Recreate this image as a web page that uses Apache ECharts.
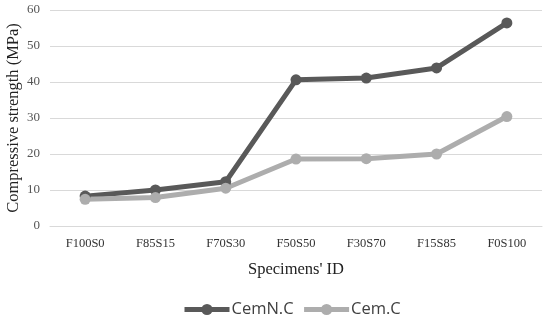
<!DOCTYPE html>
<html><head><meta charset="utf-8">
<script src="https://cdn.jsdelivr.net/npm/echarts@6/dist/echarts.min.js"></script>
<style>html,body{margin:0;padding:0;background:#fff}#c{width:550px;height:324px}</style>
</head><body><div id="c"></div>
<script>
const categories = ['F100S0','F85S15','F70S30','F50S50','F30S70','F15S85','F0S100'];
const cemNC = [8.3, 10.0, 12.3, 40.6, 41.1, 43.9, 56.4];
const cemC = [7.4, 7.9, 10.5, 18.6, 18.7, 20.0, 30.4];
const yTicks = {min: 0, max: 60, interval: 10};

const chart = echarts.init(document.getElementById('c'));
const serif = '"Liberation Serif","Times New Roman",serif';
chart.setOption({
  animation: false,
  grid: {left: 50, right: 8, top: 10, bottom: 98, containLabel: false, outerBoundsMode: 'none'},
  legend: {
    top: 301, left: 182, itemWidth: 45, itemHeight: 14, itemGap: 8, padding: 0,
    lineStyle: {width: 5},
    textStyle: {fontFamily: '"Open Sans","Liberation Sans",sans-serif', fontSize: 16.5, color: '#404040', padding: [0, 0, 0, -3]},
    data: ['CemN.C','Cem.C']
  },
  xAxis: {
    type: 'category', data: categories, boundaryGap: true,
    name: "Specimens' ID", nameLocation: 'middle', nameGap: 35, nameMoveOverlap: false,
    nameTextStyle: {fontFamily: serif, fontSize: 16.5, color: '#222'},
    axisLine: {lineStyle: {color: '#d9d9d9', width: 1}},
    axisTick: {show: false},
    axisLabel: {fontFamily: serif, fontSize: 12.5, color: '#333', margin: 11}
  },
  yAxis: {
    type: 'value', min: yTicks.min, max: yTicks.max, interval: yTicks.interval,
    name: 'Compressive strength (MPa)', nameLocation: 'middle', nameGap: 28, nameMoveOverlap: false,
    nameTextStyle: {fontFamily: serif, fontSize: 16.5, color: '#222'},
    axisLine: {show: false}, axisTick: {show: false},
    axisLabel: {fontFamily: serif, fontSize: 13, color: '#555', margin: 10},
    splitLine: {lineStyle: {color: '#d9d9d9', width: 1}}
  },
  series: [
    {name: 'CemN.C', type: 'line', data: cemNC, symbol: 'circle', symbolSize: 11,
     lineStyle: {color: '#595959', width: 5}, itemStyle: {color: '#595959'}},
    {name: 'Cem.C', type: 'line', data: cemC, symbol: 'circle', symbolSize: 11,
     lineStyle: {color: '#adadad', width: 5}, itemStyle: {color: '#adadad'}}
  ]
});
</script></body></html>
